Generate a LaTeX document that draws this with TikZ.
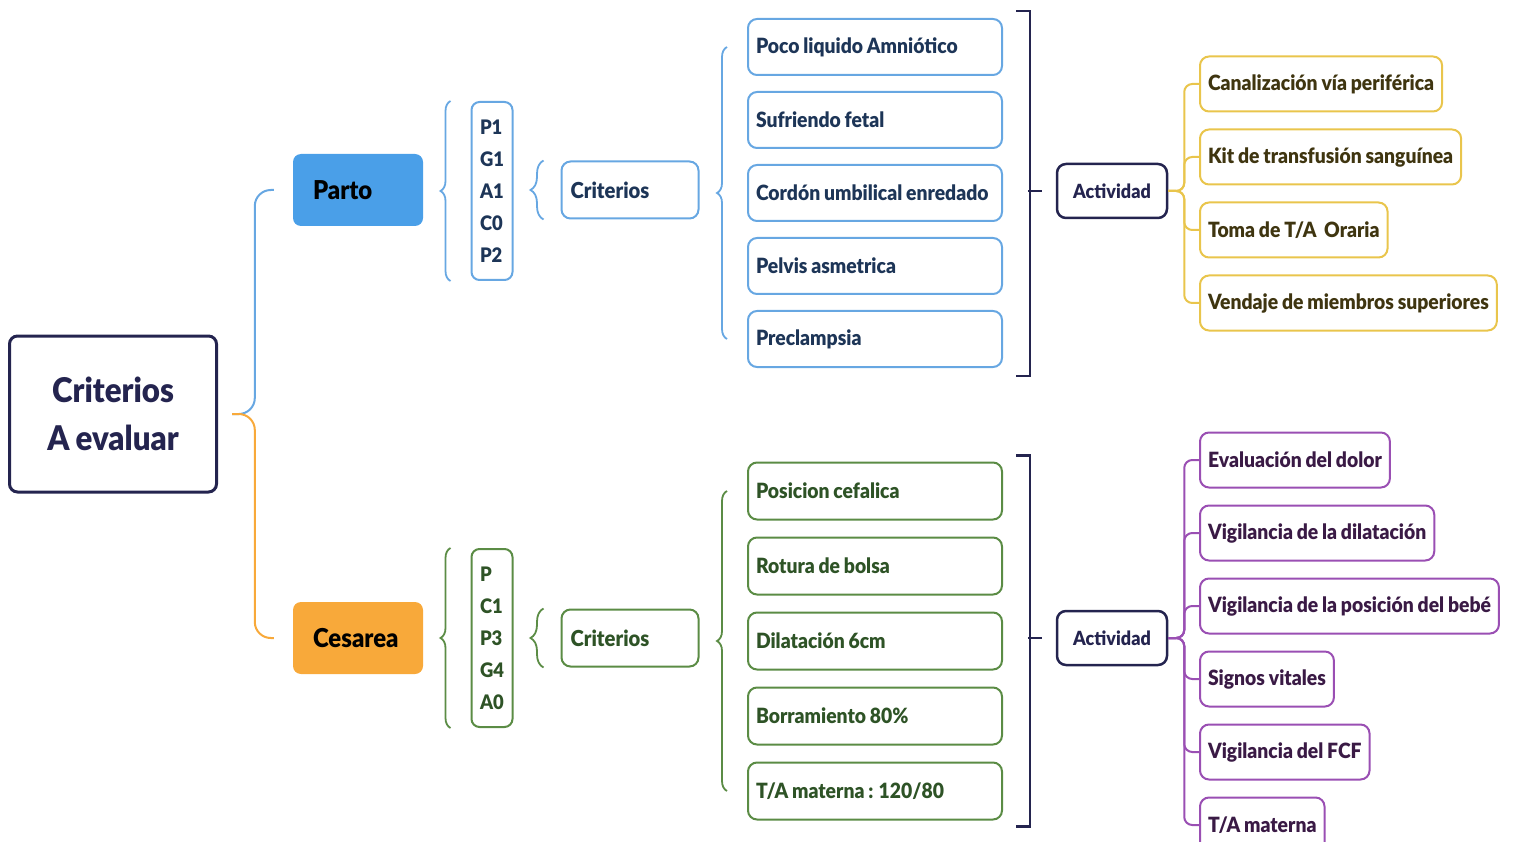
\documentclass[tikz,border=0pt]{standalone}
\usepackage{fontspec}
\setmainfont{Lato}[FakeStretch=0.92, WordSpace=0.85, BoldFont={* Black}]
\usetikzlibrary{positioning, decorations.pathreplacing}
\definecolor{navy}{HTML}{24244F}
\definecolor{bluefill}{HTML}{4A9FE8}
\definecolor{blueline}{HTML}{67A7E2}
\definecolor{bluetext}{HTML}{1D3557}
\definecolor{orangefill}{HTML}{F8A93A}
\definecolor{greenline}{HTML}{5B8C45}
\definecolor{greentext}{HTML}{2E5326}
\definecolor{yellowline}{HTML}{E9C54C}
\definecolor{yellowtext}{HTML}{3F3510}
\definecolor{purpleline}{HTML}{9A4FB3}
\definecolor{purpletext}{HTML}{3A1A45}
\tikzstyle{rootbox} = [rectangle, rounded corners=8pt, draw=navy, line width=3pt, minimum width=207pt, minimum height=156pt, align=center, text=navy, font=\fontsize{34}{48}\selectfont\bfseries]
\tikzstyle{mainbox} = [rectangle, rounded corners=8pt, minimum width=130pt, minimum height=72pt, inner xsep=20pt, text width=90pt, align=flush left, text=black, font=\fontsize{26}{30}\selectfont\bfseries]
\tikzstyle{codebox} = [rectangle, rounded corners=8pt, line width=2pt, minimum width=41pt, minimum height=178pt, inner xsep=7pt, align=left, font=\fontsize{20}{32}\selectfont\bfseries]
\tikzstyle{critbox} = [rectangle, rounded corners=9pt, line width=2pt, minimum width=137pt, minimum height=57pt, inner xsep=9pt, text width=119pt, align=flush left, font=\fontsize{22}{26}\selectfont\bfseries]
\tikzstyle{itembox} = [rectangle, rounded corners=9pt, line width=2pt, minimum width=254pt, minimum height=56pt, inner xsep=8pt, text width=238pt, align=flush left, font=\fontsize{21}{25}\selectfont\bfseries]
\tikzstyle{actbox} = [rectangle, rounded corners=9pt, draw=navy, line width=2.5pt, minimum width=110pt, minimum height=54pt, align=center, text=navy, font=\fontsize{19.5}{24}\selectfont\bfseries]
\tikzstyle{taskbox} = [rectangle, rounded corners=9pt, line width=2pt, minimum height=55pt, inner xsep=8pt, font=\fontsize{21}{25}\selectfont\bfseries]
\tikzstyle{brace} = [decorate, decoration={brace, amplitude=10pt}, line width=1.8pt]
\tikzstyle{bracket} = [draw=navy, line width=2.5pt]
\tikzstyle{tree} = [line width=2pt, rounded corners=8pt]

\begin{document}
\begin{tikzpicture}[x=1pt, y=-1pt]
        \useasboundingbox (0,0) rectangle (1515,842);
        % Nodes
        \node (root) [rootbox] at (113,414) {Criterios\\A evaluar};
        \node (parto) [mainbox, fill=bluefill] at (358,190) {Parto};
        \node (cesarea) [mainbox, fill=orangefill] at (358,638) {Cesarea};

        \node (code1) [codebox, draw=blueline, text=bluetext] at (492,191) {P1\\G1\\A1\\C0\\P2};
        \node (crit1) [critbox, draw=blueline, text=bluetext] at (630,190) {Criterios};
        \node (b1) [itembox, draw=blueline, text=bluetext] at (875,47) {Poco liquido Amniótico};
        \node (b2) [itembox, draw=blueline, text=bluetext, below=15pt of b1] {Sufriendo fetal};
        \node (b3) [itembox, draw=blueline, text=bluetext, below=15pt of b2] {Cordón umbilical enredado};
        \node (b4) [itembox, draw=blueline, text=bluetext, below=15pt of b3] {Pelvis asmetrica};
        \node (b5) [itembox, draw=blueline, text=bluetext, below=15pt of b4] {Preclampsia};
        \node (act1) [actbox] at (1112,191) {Actividad};
        \node (t1) [taskbox, draw=yellowline, text=yellowtext, anchor=west] at (1199,84) {Canalización vía periférica};
        \node (t2) [taskbox, draw=yellowline, text=yellowtext, below=16pt of t1.south west, anchor=north west] {Kit de transfusión sanguínea};
        \node (t3) [taskbox, draw=yellowline, text=yellowtext, below=16pt of t2.south west, anchor=north west] {Toma de T/A\ \ Oraria};
        \node (t4) [taskbox, draw=yellowline, text=yellowtext, below=16pt of t3.south west, anchor=north west] {Vendaje de miembros superiores};

        \node (code2) [codebox, draw=greenline, text=greentext] at (492,638) {P\\C1\\P3\\G4\\A0};
        \node (crit2) [critbox, draw=greenline, text=greentext] at (630,638) {Criterios};
        \node (g1) [itembox, draw=greenline, text=greentext, minimum height=57pt] at (875,491) {Posicion cefalica};
        \node (g2) [itembox, draw=greenline, text=greentext, minimum height=57pt, below=16pt of g1] {Rotura de bolsa};
        \node (g3) [itembox, draw=greenline, text=greentext, minimum height=57pt, below=16pt of g2] {Dilatación 6cm};
        \node (g4) [itembox, draw=greenline, text=greentext, minimum height=57pt, below=16pt of g3] {Borramiento 80\%};
        \node (g5) [itembox, draw=greenline, text=greentext, minimum height=57pt, below=16pt of g4] {T/A materna : 120/80};
        \node (act2) [actbox] at (1112,638) {Actividad};
        \node (s1) [taskbox, draw=purpleline, text=purpletext, anchor=west] at (1199,460) {Evaluación del dolor};
        \node (s2) [taskbox, draw=purpleline, text=purpletext, below=16pt of s1.south west, anchor=north west] {Vigilancia de la dilatación};
        \node (s3) [taskbox, draw=purpleline, text=purpletext, below=16pt of s2.south west, anchor=north west] {Vigilancia de la posición del bebé};
        \node (s4) [taskbox, draw=purpleline, text=purpletext, below=16pt of s3.south west, anchor=north west] {Signos vitales};
        \node (s5) [taskbox, draw=purpleline, text=purpletext, below=16pt of s4.south west, anchor=north west] {Vigilancia del FCF};
        \node (s6) [taskbox, draw=purpleline, text=purpletext, below=16pt of s5.south west, anchor=north west] {T/A materna};

        % Connections
        \coordinate (rootout) at ([xshift=14pt]root.east);
        \draw [tree, rounded corners=16pt, draw=blueline] (rootout) -| ([xshift=-38pt]parto.west) -- ([xshift=-19pt]parto.west);
        \draw [tree, rounded corners=16pt, draw=orangefill] (rootout) -| ([xshift=-38pt]cesarea.west) -- ([xshift=-19pt]cesarea.west);

        \draw [brace, draw=blueline] ([xshift=-20pt]code1.south west) -- ([xshift=-20pt]code1.north west);
        \draw [brace, draw=blueline, decoration={amplitude=13pt}] ([xshift=-17pt]crit1.south west) -- ([xshift=-17pt]crit1.north west);
        \draw [brace, draw=blueline] ([xshift=-20pt]b5.west) -- ([xshift=-20pt]b1.west);
        \draw [bracket] ([xshift=13pt,yshift=7pt]b1.north east) -- ++(14,0) |- ([xshift=13pt,yshift=-8pt]b5.south east);
        \draw [bracket] ([xshift=-28pt]act1.west) -- ([xshift=-14pt]act1.west);
        \foreach \t in {t1,t2,t3,t4}
            \draw [tree, draw=yellowline] (act1.east) -- ++(16,0) |- (\t.west);

        \draw [brace, draw=greenline] ([xshift=-20pt]code2.south west) -- ([xshift=-20pt]code2.north west);
        \draw [brace, draw=greenline, decoration={amplitude=13pt}] ([xshift=-17pt]crit2.south west) -- ([xshift=-17pt]crit2.north west);
        \draw [brace, draw=greenline] ([xshift=-20pt]g5.west) -- ([xshift=-20pt]g1.west);
        \draw [bracket] ([xshift=13pt,yshift=6pt]g1.north east) -- ++(14,0) |- ([xshift=13pt,yshift=-6pt]g5.south east);
        \draw [bracket] ([xshift=-28pt]act2.west) -- ([xshift=-14pt]act2.west);
        \foreach \s in {s1,s2,s3,s4,s5,s6}
            \draw [tree, draw=purpleline] (act2.east) -- ++(16,0) |- (\s.west);
    \end{tikzpicture}
\end{document}
